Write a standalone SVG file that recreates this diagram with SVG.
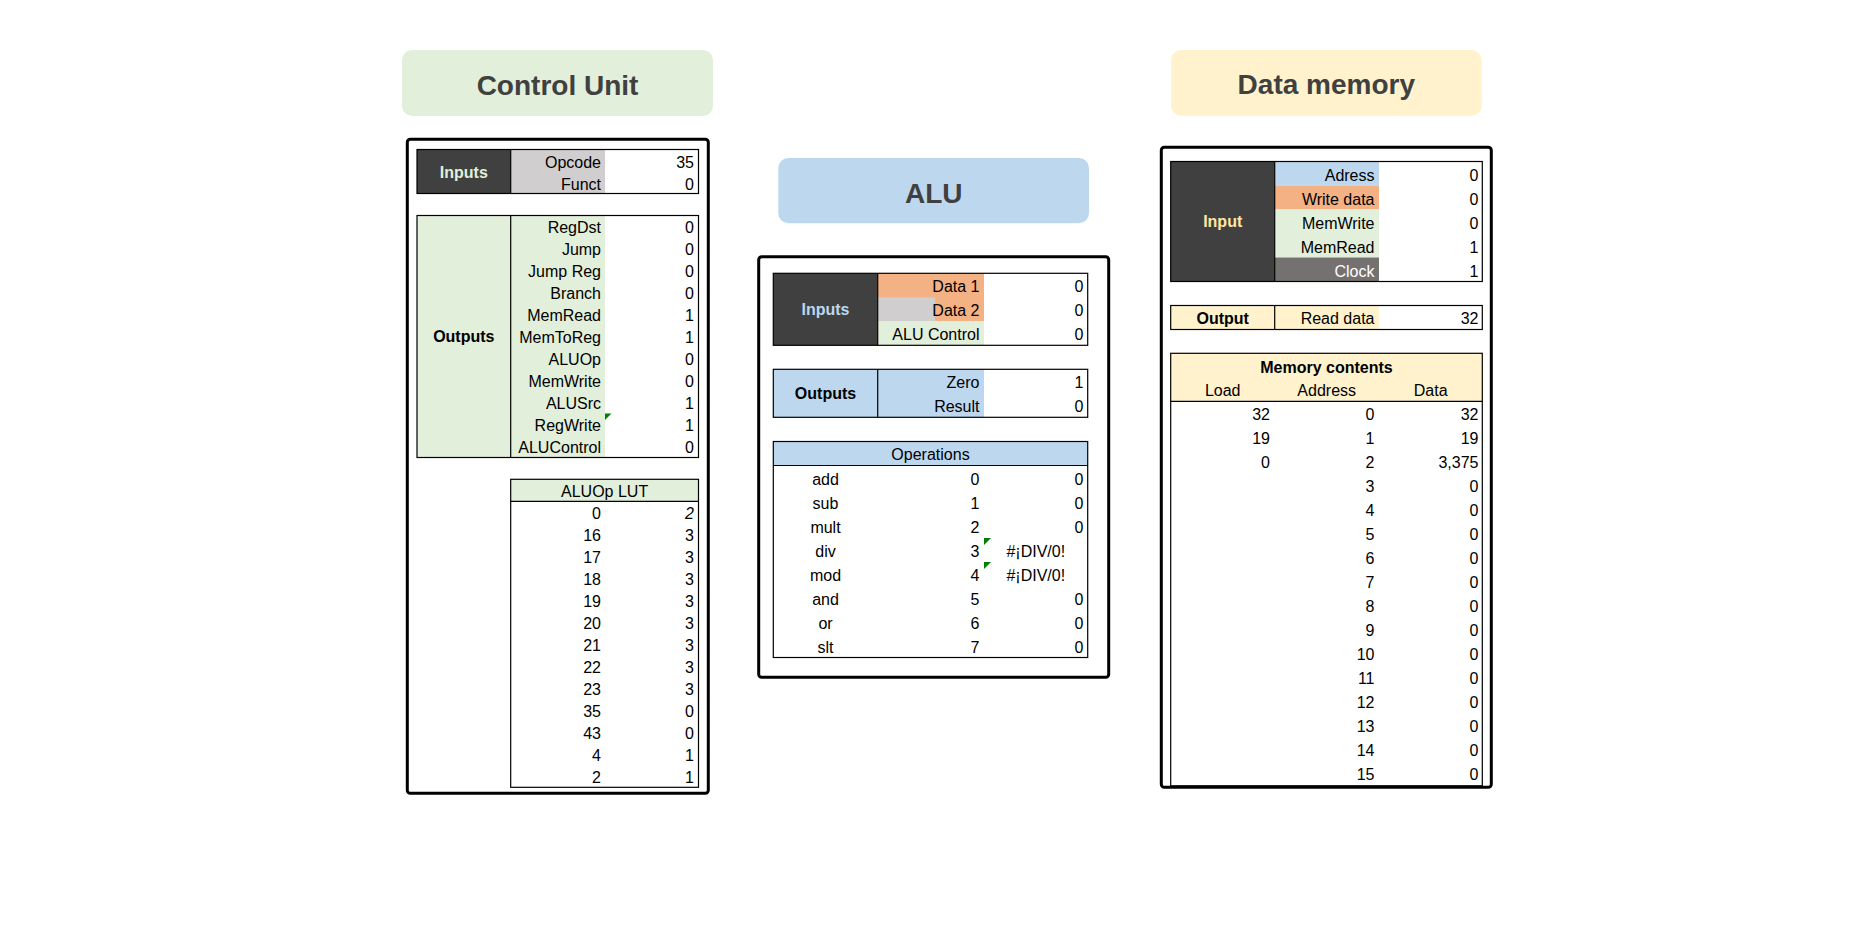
<svg xmlns="http://www.w3.org/2000/svg" width="1866" height="934" viewBox="0 0 1866 934">
<defs>
<style>
text{font-family:"Liberation Sans",Arial,sans-serif;font-size:16px;fill:#000}
.r{text-anchor:end}
.c{text-anchor:middle}
.b{font-weight:bold}
.title{font-size:28px;font-weight:bold;fill:#404040;text-anchor:middle}
.box{fill:#fff;stroke:#000;stroke-width:3}
.tbl{fill:none;stroke:#000;stroke-width:1.2}
.ln{stroke:#000;stroke-width:1.2}
.dark{fill:#404040}
.gray{fill:#d0cece}
.green{fill:#e2efda}
.blue{fill:#bdd7ee}
.salmon{fill:#f4b183}
.cream{fill:#fff2cc}
.clock{fill:#767171}
.tri{fill:#008000}
</style>
</defs>
<rect width="1866" height="934" fill="#fff"/>

<g id="control-unit">
<rect x="402" y="50" width="311" height="66" rx="10" class="green"/>
<text x="557.5" y="95" class="title">Control Unit</text>
<rect x="407.3" y="139.3" width="301" height="654" rx="3" class="box"/>
<!-- inputs -->
<rect x="417" y="149.5" width="93.7" height="44" class="dark"/>
<rect x="510.7" y="149.5" width="94.3" height="44" class="gray"/>
<rect x="417" y="149.5" width="281.5" height="44" class="tbl"/>
<line x1="510.7" y1="149.5" x2="510.7" y2="193.5" class="ln"/>
<text x="463.8" y="178" class="c b" style="fill:#e2efda">Inputs</text>
<text x="601" y="167.5" class="r">Opcode</text><text x="694" y="167.5" class="r">35</text>
<text x="601" y="189.5" class="r">Funct</text><text x="694" y="189.5" class="r">0</text>
<!-- outputs -->
<rect x="417" y="215.5" width="188" height="242" class="green"/>
<rect x="417" y="215.5" width="281.5" height="242" class="tbl"/>
<line x1="510.7" y1="215.5" x2="510.7" y2="457.5" class="ln"/>
<text x="463.8" y="342" class="c b">Outputs</text>
<text x="601" y="233.3" class="r">RegDst</text><text x="694" y="233.3" class="r">0</text>
<text x="601" y="255.3" class="r">Jump</text><text x="694" y="255.3" class="r">0</text>
<text x="601" y="277.3" class="r">Jump Reg</text><text x="694" y="277.3" class="r">0</text>
<text x="601" y="299.3" class="r">Branch</text><text x="694" y="299.3" class="r">0</text>
<text x="601" y="321.3" class="r">MemRead</text><text x="694" y="321.3" class="r">1</text>
<text x="601" y="343.3" class="r">MemToReg</text><text x="694" y="343.3" class="r">1</text>
<text x="601" y="365.3" class="r">ALUOp</text><text x="694" y="365.3" class="r">0</text>
<text x="601" y="387.3" class="r">MemWrite</text><text x="694" y="387.3" class="r">0</text>
<text x="601" y="409.3" class="r">ALUSrc</text><text x="694" y="409.3" class="r">1</text>
<text x="601" y="431.3" class="r">RegWrite</text><text x="694" y="431.3" class="r">1</text>
<text x="601" y="453.3" class="r">ALUControl</text><text x="694" y="453.3" class="r">0</text>
<polygon points="605,413.5 611.5,413.5 605,420" class="tri"/>
<!-- LUT -->
<rect x="510.7" y="479.3" width="187.8" height="22" class="green"/>
<rect x="510.7" y="479.3" width="187.8" height="308" class="tbl"/>
<line x1="510.7" y1="501.3" x2="698.5" y2="501.3" class="ln"/>
<text x="604.6" y="496.8" class="c">ALUOp LUT</text>
<text x="601" y="518.9" class="r">0</text><text x="694" y="518.9" class="r" font-style="italic">2</text>
<text x="601" y="540.9" class="r">16</text><text x="694" y="540.9" class="r">3</text>
<text x="601" y="562.9" class="r">17</text><text x="694" y="562.9" class="r">3</text>
<text x="601" y="584.9" class="r">18</text><text x="694" y="584.9" class="r">3</text>
<text x="601" y="606.9" class="r">19</text><text x="694" y="606.9" class="r">3</text>
<text x="601" y="628.9" class="r">20</text><text x="694" y="628.9" class="r">3</text>
<text x="601" y="650.9" class="r">21</text><text x="694" y="650.9" class="r">3</text>
<text x="601" y="672.9" class="r">22</text><text x="694" y="672.9" class="r">3</text>
<text x="601" y="694.9" class="r">23</text><text x="694" y="694.9" class="r">3</text>
<text x="601" y="716.9" class="r">35</text><text x="694" y="716.9" class="r">0</text>
<text x="601" y="738.9" class="r">43</text><text x="694" y="738.9" class="r">0</text>
<text x="601" y="760.9" class="r">4</text><text x="694" y="760.9" class="r">1</text>
<text x="601" y="782.9" class="r">2</text><text x="694" y="782.9" class="r">1</text>
</g>

<g id="alu">
<rect x="778.3" y="158" width="310.7" height="65.3" rx="10" class="blue"/>
<text x="933.7" y="203" class="title">ALU</text>
<rect x="758.7" y="256.7" width="350" height="420.6" rx="3" class="box"/>
<!-- inputs -->
<rect x="773.3" y="273.3" width="104.4" height="72" class="dark"/>
<rect x="877.7" y="273.3" width="106.3" height="48" class="salmon"/>
<rect x="877.7" y="297.3" width="57.3" height="24" class="gray"/>
<rect x="877.7" y="321.3" width="106.3" height="24" class="green"/>
<rect x="773.3" y="273.3" width="314.4" height="72" class="tbl"/>
<line x1="877.7" y1="273.3" x2="877.7" y2="345.3" class="ln"/>
<text x="825.5" y="315" class="c b" style="fill:#bdd7ee">Inputs</text>
<text x="979.5" y="292.3" class="r">Data 1</text><text x="1083.5" y="292.3" class="r">0</text>
<text x="979.5" y="316.3" class="r">Data 2</text><text x="1083.5" y="316.3" class="r">0</text>
<text x="979.5" y="340.3" class="r">ALU Control</text><text x="1083.5" y="340.3" class="r">0</text>
<!-- outputs -->
<rect x="773.3" y="369.3" width="210.7" height="48" class="blue"/>
<rect x="773.3" y="369.3" width="314.4" height="48" class="tbl"/>
<line x1="877.7" y1="369.3" x2="877.7" y2="417.3" class="ln"/>
<text x="825.5" y="399.3" class="c b">Outputs</text>
<text x="979.5" y="388.3" class="r">Zero</text><text x="1083.5" y="388.3" class="r">1</text>
<text x="979.5" y="412.3" class="r">Result</text><text x="1083.5" y="412.3" class="r">0</text>
<!-- operations -->
<rect x="773.3" y="441.5" width="314.4" height="24" class="blue"/>
<rect x="773.3" y="441.5" width="314.4" height="216" class="tbl"/>
<line x1="773.3" y1="465.5" x2="1087.7" y2="465.5" class="ln"/>
<text x="930.5" y="459.5" class="c">Operations</text>
<text x="825.5" y="484.5" class="c">add</text><text x="979.5" y="484.5" class="r">0</text><text x="1083.5" y="484.5" class="r">0</text>
<text x="825.5" y="508.5" class="c">sub</text><text x="979.5" y="508.5" class="r">1</text><text x="1083.5" y="508.5" class="r">0</text>
<text x="825.5" y="532.5" class="c">mult</text><text x="979.5" y="532.5" class="r">2</text><text x="1083.5" y="532.5" class="r">0</text>
<text x="825.5" y="556.5" class="c">div</text><text x="979.5" y="556.5" class="r">3</text><text x="1035.8" y="556.5" class="c">#¡DIV/0!</text>
<text x="825.5" y="580.5" class="c">mod</text><text x="979.5" y="580.5" class="r">4</text><text x="1035.8" y="580.5" class="c">#¡DIV/0!</text>
<text x="825.5" y="604.5" class="c">and</text><text x="979.5" y="604.5" class="r">5</text><text x="1083.5" y="604.5" class="r">0</text>
<text x="825.5" y="628.5" class="c">or</text><text x="979.5" y="628.5" class="r">6</text><text x="1083.5" y="628.5" class="r">0</text>
<text x="825.5" y="652.5" class="c">slt</text><text x="979.5" y="652.5" class="r">7</text><text x="1083.5" y="652.5" class="r">0</text>
<polygon points="984,538 991,538 984,545" class="tri"/>
<polygon points="984,562 991,562 984,569" class="tri"/>
</g>

<g id="data-memory">
<rect x="1171" y="50" width="310.7" height="65.7" rx="10" class="cream"/>
<text x="1326.3" y="94" class="title">Data memory</text>
<rect x="1161.3" y="147.3" width="330" height="640" rx="3" class="box"/>
<!-- input -->
<rect x="1170.7" y="161.5" width="104" height="120" class="dark"/>
<rect x="1274.7" y="161.5" width="104.3" height="24" class="blue"/>
<rect x="1274.7" y="185.5" width="104.3" height="24" class="salmon"/>
<rect x="1274.7" y="209.5" width="104.3" height="48" class="green"/>
<rect x="1274.7" y="257.5" width="104.3" height="24" class="clock"/>
<rect x="1170.7" y="161.5" width="311.6" height="120" class="tbl"/>
<line x1="1274.7" y1="161.5" x2="1274.7" y2="281.5" class="ln"/>
<text x="1222.7" y="227" class="c b" style="fill:#ffe6a6">Input</text>
<text x="1374.5" y="180.5" class="r">Adress</text><text x="1478.5" y="180.5" class="r">0</text>
<text x="1374.5" y="204.5" class="r">Write data</text><text x="1478.5" y="204.5" class="r">0</text>
<text x="1374.5" y="228.5" class="r">MemWrite</text><text x="1478.5" y="228.5" class="r">0</text>
<text x="1374.5" y="252.5" class="r">MemRead</text><text x="1478.5" y="252.5" class="r">1</text>
<text x="1374.5" y="276.5" class="r" style="fill:#fff">Clock</text><text x="1478.5" y="276.5" class="r">1</text>
<!-- output -->
<rect x="1170.7" y="305.5" width="208.3" height="24" class="cream"/>
<rect x="1170.7" y="305.5" width="311.6" height="24" class="tbl"/>
<line x1="1274.7" y1="305.5" x2="1274.7" y2="329.5" class="ln"/>
<text x="1222.7" y="324" class="c b">Output</text>
<text x="1374.5" y="324" class="r">Read data</text><text x="1478.5" y="324" class="r">32</text>
<!-- memory contents -->
<rect x="1170.7" y="353.3" width="311.6" height="48" class="cream"/>
<rect x="1170.7" y="353.3" width="311.6" height="432.5" class="tbl"/>
<line x1="1170.7" y1="401.3" x2="1482.3" y2="401.3" class="ln"/>
<text x="1326.5" y="372.5" class="c b">Memory contents</text>
<text x="1222.7" y="396" class="c">Load</text>
<text x="1326.7" y="396" class="c">Address</text>
<text x="1430.7" y="396" class="c">Data</text>
<text x="1270" y="420" class="r">32</text><text x="1374.5" y="420" class="r">0</text><text x="1478.5" y="420" class="r">32</text>
<text x="1270" y="444" class="r">19</text><text x="1374.5" y="444" class="r">1</text><text x="1478.5" y="444" class="r">19</text>
<text x="1270" y="468" class="r">0</text><text x="1374.5" y="468" class="r">2</text><text x="1478.5" y="468" class="r">3,375</text>
<text x="1374.5" y="492" class="r">3</text><text x="1478.5" y="492" class="r">0</text>
<text x="1374.5" y="516" class="r">4</text><text x="1478.5" y="516" class="r">0</text>
<text x="1374.5" y="540" class="r">5</text><text x="1478.5" y="540" class="r">0</text>
<text x="1374.5" y="564" class="r">6</text><text x="1478.5" y="564" class="r">0</text>
<text x="1374.5" y="588" class="r">7</text><text x="1478.5" y="588" class="r">0</text>
<text x="1374.5" y="612" class="r">8</text><text x="1478.5" y="612" class="r">0</text>
<text x="1374.5" y="636" class="r">9</text><text x="1478.5" y="636" class="r">0</text>
<text x="1374.5" y="660" class="r">10</text><text x="1478.5" y="660" class="r">0</text>
<text x="1374.5" y="684" class="r">11</text><text x="1478.5" y="684" class="r">0</text>
<text x="1374.5" y="708" class="r">12</text><text x="1478.5" y="708" class="r">0</text>
<text x="1374.5" y="732" class="r">13</text><text x="1478.5" y="732" class="r">0</text>
<text x="1374.5" y="756" class="r">14</text><text x="1478.5" y="756" class="r">0</text>
<text x="1374.5" y="780" class="r">15</text><text x="1478.5" y="780" class="r">0</text>
</g>

<g id="connectors"></g>
</svg>
